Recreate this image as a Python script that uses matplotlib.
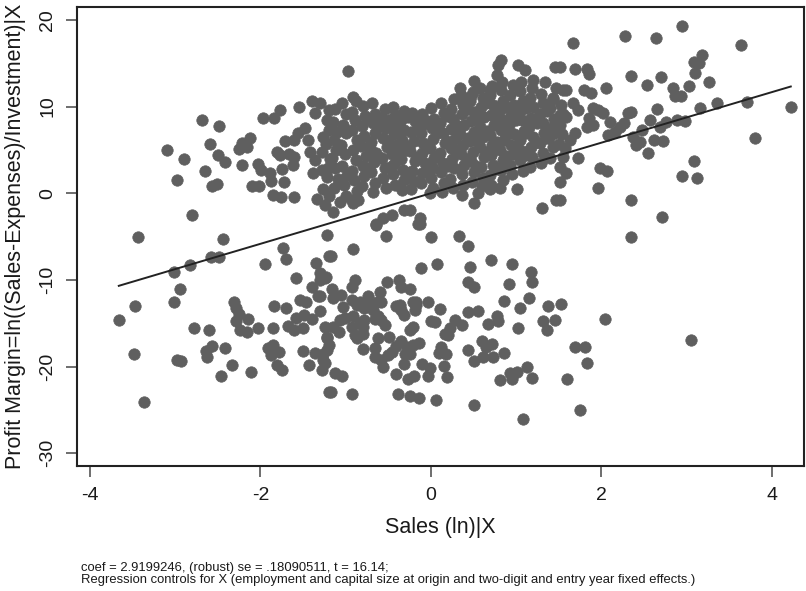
import matplotlib
matplotlib.use("Agg")
import matplotlib.pyplot as plt
import numpy as np

plt.rcParams['font.family'] = ['Liberation Sans', 'DejaVu Sans']

# added-variable plot: residuals of profit margin vs residuals of sales
coef = 2.9199246

# scattered points of the upper cloud
upper_pts = [
    (-2.68, 8.46), (-2.48, 7.8), (-3.09, 5.0), (-2.89, 3.9), (-2.59, 5.7), (-2.50, 4.4),
    (-2.42, 3.6), (-2.65, 2.6), (-2.98, 1.5), (-2.57, 0.84), (-2.51, 1.07), (-2.80, -2.54),
    (-2.22, 5.77), (-2.12, 6.42), (-2.25, 5.08), (-2.16, 5.38), (-2.22, 3.3), (-2.03, 3.38),
    (-1.99, 2.69), (-1.89, 2.38), (-2.10, 0.88), (-2.02, 0.88), (-1.88, 1.46),
    (-1.97, 8.66), (-1.84, 8.7), (-1.77, 9.62), (-1.55, 10.0), (-1.40, 10.7), (-1.30, 10.4),
    (-1.36, 9.24), (-1.20, 9.6), (-1.48, 7.57), (-1.56, 6.93), (-1.61, 6.15), (-1.71, 6.04),
    (-1.81, 4.8), (-1.77, 4.42), (-1.66, 4.54), (-1.60, 4.23), (-1.62, 3.27), (-1.75, 2.77),
    (-1.72, 1.34), (-1.85, -0.2), (-1.76, -0.39), (-1.61, -0.39), (-1.44, 6.15), (-1.42, 4.8),
    (-1.36, 3.85), (-1.28, 4.8), (-1.26, 6.54), (-1.38, 2.31), (-1.28, 2.69), (-1.22, 1.92),
    (-1.33, -0.7), (-1.24, -1.35), (-1.27, 0.5), (-1.20, -0.3),
    (-0.97, 14.1), (-0.91, 11.1), (0.82, 15.4), (0.79, 14.8), (0.77, 13.6), (1.02, 14.8),
    (1.10, 14.2), (1.45, 14.6), (0.50, 13.0), (0.34, 12.1), (0.47, 11.2), (0.69, 11.9),
    (0.83, 12.9), (1.06, 12.8), (1.20, 13.1), (1.34, 12.9), (1.47, 12.1), (1.59, 11.9),
    (1.43, 11.0), (1.45, 6.93), (1.30, -1.73), (1.47, -0.77), (0.50, -1.08), (0.36, -0.2),
    (0.55, 0.07), (0.69, 0.46), (0.81, 0.65), (1.01, 0.5), (-0.13, -2.9), (-0.15, -3.6),
    (-0.32, -1.93), (-0.25, -1.93), (-0.46, -2.5), (-0.56, -2.9), (-0.64, -3.6), (-0.53, -4.9),
    (-0.01, 0.07), (-1.15, -2.12), (-1.07, -0.97), (-0.91, -1.15), (-0.85, -0.77),
    (1.67, 17.3), (2.28, 18.2), (2.64, 17.9), (2.94, 19.3), (3.64, 17.1), (3.18, 16.0),
    (3.08, 15.2), (3.14, 15.0), (3.10, 13.9), (3.26, 12.8), (3.03, 12.4), (2.35, 13.5),
    (2.53, 12.5), (2.70, 13.4), (2.84, 12.2), (2.86, 11.2), (2.93, 11.2), (3.35, 10.4),
    (3.71, 10.5), (4.22, 9.9), (3.16, 9.8), (2.65, 9.7), (3.80, 6.35), (3.08, 3.73),
    (2.95, 2.03), (3.12, 1.73), (2.35, -0.77), (1.96, 0.58), (1.98, 2.89), (2.06, 2.61),
    (1.73, 4.1), (2.54, 4.62), (2.41, 5.58), (2.45, 5.96), (2.37, 6.54), (2.62, 6.15),
    (2.72, 6.07), (2.47, 7.3), (2.57, 8.46), (2.69, 7.69), (2.76, 8.27), (2.88, 8.46),
    (2.98, 8.38), (2.31, 9.24), (2.35, 9.42), (2.22, 7.69), (2.26, 8.08), (2.16, 7.11),
    (2.08, 6.73), (2.10, 8.27), (2.02, 9.24), (1.90, 9.82), (1.96, 9.62), (1.69, 14.4),
    (1.83, 14.4), (1.85, 13.8), (2.05, 12.1), (1.79, 11.9), (1.88, 11.6), (1.55, 11.9),
    (1.51, 14.6), (1.67, 10.4), (1.73, 9.62), (1.59, 8.85), (1.51, 9.04), (1.85, 8.66),
    (1.90, 7.89), (1.83, 7.69), (1.69, 6.93), (1.63, 6.16), (1.57, 5.2), (1.55, 4.23),
    (1.51, 3.07), (1.59, 2.31), (1.51, 1.34), (1.51, -0.77), (2.71, -2.7), (2.35, -5.08),
]

# dense core of the upper cloud
band_pts = [
    (-1.22, 8.5), (-1.19, 7.3), (-1.23, 5.7), (-1.18, 4.0), (-1.21, 2.9),
    (-1.12, 9.7), (-1.15, 8.2), (-1.10, 7.1), (-1.14, 6.2), (-1.11, 5.0), (-1.16, 4.1),
    (-1.12, 2.9), (-1.09, 1.7), (-1.14, 0.6),
    (-1.04, 10.4), (-1.00, 9.1), (-1.03, 7.9), (-0.99, 6.9), (-1.05, 5.6), (-1.01, 4.5),
    (-1.04, 3.2), (-0.98, 2.1), (-1.02, 0.9), (-1.00, -0.3),
    (-0.88, 10.6), (-0.92, 9.4), (-0.89, 8.4), (-0.93, 7.3), (-0.87, 6.1), (-0.91, 5.0),
    (-0.88, 3.8), (-0.93, 2.6), (-0.90, 1.5), (-0.87, 0.3), (-0.92, -0.8),
    (-0.80, 10.1), (-0.77, 8.9), (-0.81, 7.8), (-0.78, 6.6), (-0.82, 5.5), (-0.76, 4.3),
    (-0.80, 3.1), (-0.78, 2.0), (-0.81, 0.8),
    (-0.69, 10.4), (-0.65, 9.2), (-0.68, 8.1), (-0.66, 7.0), (-0.70, 5.9), (-0.64, 4.7),
    (-0.67, 3.6), (-0.70, 2.4), (-0.65, 1.2), (-0.68, 0.1),
    (-0.54, 9.7), (-0.57, 8.7), (-0.53, 7.5), (-0.56, 6.4), (-0.52, 5.3), (-0.57, 4.1),
    (-0.54, 2.9), (-0.56, 1.8), (-0.53, 0.6),
    (-0.45, 10.0), (-0.42, 9.0), (-0.46, 7.9), (-0.43, 6.8), (-0.41, 5.6), (-0.46, 4.5),
    (-0.43, 3.4), (-0.45, 2.2), (-0.42, 1.0),
    (-0.31, 9.5), (-0.35, 8.4), (-0.32, 7.3), (-0.34, 6.2), (-0.30, 5.0), (-0.35, 3.9),
    (-0.33, 2.7), (-0.31, 1.5), (-0.34, 0.4),
    (-0.22, 9.3), (-0.19, 8.3), (-0.23, 7.1), (-0.20, 6.0), (-0.24, 4.9), (-0.19, 3.7),
    (-0.22, 2.6), (-0.20, 1.4), (-0.23, 0.5),
    (-0.11, 9.1), (-0.08, 8.0), (-0.12, 6.9), (-0.09, 5.8), (-0.11, 4.6), (-0.07, 3.5),
    (-0.10, 2.3), (-0.12, 1.2),
    (0.00, 9.8), (0.04, 8.6), (0.01, 7.5), (0.03, 6.3), (-0.01, 5.2), (0.04, 4.1),
    (0.02, 2.9), (0.00, 1.8), (0.03, 0.6),
    (0.12, 10.4), (0.15, 9.3), (0.11, 8.1), (0.14, 7.0), (0.16, 5.8), (0.11, 4.7),
    (0.14, 3.5), (0.12, 2.4), (0.15, 1.2), (0.13, 0.2),
    (0.27, 10.9), (0.23, 9.7), (0.26, 8.6), (0.24, 7.4), (0.28, 6.3), (0.23, 5.2),
    (0.25, 4.0), (0.27, 2.9), (0.22, 1.7), (0.26, 0.6),
    (0.35, 11.3), (0.38, 10.2), (0.36, 9.1), (0.39, 7.9), (0.34, 6.8), (0.38, 5.6),
    (0.35, 4.5), (0.39, 3.3), (0.36, 2.2), (0.38, 1.0),
    (0.49, 11.7), (0.46, 10.6), (0.50, 9.4), (0.47, 8.3), (0.51, 7.1), (0.46, 6.0),
    (0.49, 4.8), (0.47, 3.7), (0.50, 2.5), (0.48, 1.3),
    (0.58, 12.1), (0.61, 11.0), (0.59, 9.9), (0.62, 8.8), (0.57, 7.6), (0.61, 6.5),
    (0.58, 5.3), (0.62, 4.2), (0.59, 3.0), (0.61, 1.8), (0.60, 0.8),
    (0.72, 12.4), (0.69, 11.3), (0.73, 10.2), (0.70, 9.0), (0.74, 7.9), (0.69, 6.7),
    (0.72, 5.6), (0.70, 4.4), (0.73, 3.3), (0.69, 2.1), (0.71, 1.0),
    (0.82, 11.9), (0.85, 10.7), (0.81, 9.6), (0.84, 8.4), (0.82, 7.3), (0.86, 6.1),
    (0.81, 5.0), (0.84, 3.8), (0.82, 2.7), (0.85, 1.5),
    (0.96, 12.5), (0.93, 11.3), (0.97, 10.2), (0.94, 9.0), (0.92, 7.9), (0.97, 6.8),
    (0.94, 5.6), (0.96, 4.5), (0.93, 3.3), (0.95, 2.2),
    (1.05, 11.8), (1.08, 10.6), (1.04, 9.5), (1.07, 8.4), (1.09, 7.2), (1.04, 6.1),
    (1.07, 4.9), (1.05, 3.8), (1.08, 2.6),
    (1.19, 12.2), (1.16, 11.0), (1.20, 9.9), (1.17, 8.7), (1.15, 7.6), (1.20, 6.5),
    (1.17, 5.3), (1.19, 4.2), (1.16, 3.0),
    (1.29, 11.5), (1.32, 10.4), (1.28, 9.2), (1.31, 8.1), (1.33, 7.0), (1.28, 5.8),
    (1.31, 4.7), (1.29, 3.5),
    (1.43, 10.9), (1.40, 9.8), (1.44, 8.6), (1.41, 7.5), (1.39, 6.4), (1.43, 5.3),
    (1.40, 4.1),
    (1.52, 10.2), (1.55, 9.1), (1.51, 7.9), (1.54, 6.8), (1.50, 5.7),
]

# extra points where the core of the upper cloud is solid
core_pts = [
    (-0.73, 8.6), (-0.72, 5.2), (-0.74, 2.9), (-0.61, 7.6), (-0.60, 4.1),
    (-0.49, 8.4), (-0.50, 6.0), (-0.48, 3.0), (-0.38, 7.3), (-0.37, 4.6),
    (-0.27, 8.8), (-0.26, 5.5), (-0.28, 2.1), (-0.15, 7.6), (-0.16, 4.2),
    (-0.04, 8.3), (-0.05, 5.3), (-0.03, 2.6), (0.07, 7.0), (0.08, 4.3),
    (0.19, 8.9), (0.19, 6.0), (0.20, 3.2), (0.30, 7.9), (0.31, 5.0),
    (0.42, 9.7), (0.43, 6.4), (0.42, 3.9), (0.54, 8.8), (0.55, 5.9),
    (0.53, 3.1), (0.65, 10.4), (0.66, 7.2), (0.65, 4.8), (0.77, 8.5),
    (0.78, 5.9), (0.77, 2.8), (0.88, 10.0), (0.89, 6.8), (0.88, 4.3),
    (1.00, 8.4), (1.01, 5.2), (1.12, 9.8), (1.12, 6.9), (1.11, 4.4),
    (1.24, 8.1), (1.23, 5.9), (1.36, 9.5), (1.35, 6.4),
]

# lower cloud
lower_pts = [
    (-3.44, -5.1), (-2.44, -5.3), (-3.01, -9.05), (-2.82, -8.28), (-2.58, -7.32), (-2.48, -7.32),
    (-2.94, -11.1), (-3.01, -12.5), (-3.47, -13.0), (-3.66, -14.6), (-3.48, -18.5), (-3.36, -24.1),
    (-2.98, -19.2), (-2.93, -19.4), (-2.78, -15.5), (-2.60, -15.8), (-2.64, -18.2), (-2.57, -17.6),
    (-2.62, -18.9), (-2.41, -17.9), (-2.33, -19.8), (-2.46, -21.1), (-2.11, -20.6),
    (-2.31, -12.5), (-2.28, -13.3), (-2.25, -13.9), (-2.28, -14.8), (-2.24, -15.8), (-2.16, -16.0),
    (-2.15, -14.5), (-2.03, -15.5), (-1.95, -8.2), (-1.73, -6.35), (-1.70, -7.6), (-1.58, -9.8),
    (-1.84, -13.0), (-1.70, -13.3), (-1.85, -15.5), (-1.67, -15.3), (-1.60, -15.8), (-1.50, -15.6),
    (-1.58, -14.4), (-1.49, -14.1), (-1.40, -14.5), (-1.54, -12.3), (-1.46, -12.5), (-1.40, -10.8),
    (-1.32, -11.9), (-1.30, -10.0), (-1.23, -9.63), (-1.30, -13.6), (-1.35, -8.08), (-1.22, -4.8),
    (-1.20, -7.3), (-1.91, -17.9), (-1.85, -17.5), (-1.87, -18.7), (-1.78, -18.3), (-1.81, -19.8),
    (-1.75, -20.4), (-1.50, -18.2), (-1.36, -18.4), (-1.43, -19.8), (-1.28, -20.4), (-1.26, -19.2),
    (-1.20, -17.5), (-1.19, -22.9), (-1.24, -15.4), (-1.22, -16.6),
    (-0.64, -3.66), (-0.13, -3.55), (0.0, -5.0), (0.33, -4.93), (0.44, -6.09), (-0.91, -6.47),
    (-1.17, -7.2), (-0.12, -8.6), (0.07, -8.2), (0.46, -8.55), (0.44, -10.2), (0.50, -10.8),
    (0.70, -7.7), (0.95, -8.16), (1.17, -9.12), (1.19, -10.2), (0.91, -10.5), (0.86, -12.4),
    (1.05, -13.3), (1.15, -12.1), (1.37, -13.0), (1.53, -12.8), (1.31, -14.7), (1.45, -14.6),
    (1.36, -15.8), (1.02, -15.6), (1.60, -21.4), (1.13, -20.1), (1.18, -21.3), (1.01, -20.6),
    (0.93, -20.8), (0.81, -21.5), (0.95, -21.4), (1.08, -26.1), (0.50, -24.4),
    (0.60, -17.1), (0.65, -17.7), (0.72, -17.4), (0.86, -18.4), (0.73, -18.9), (0.61, -18.9),
    (0.51, -19.4), (0.43, -18.1), (0.77, -14.2), (0.67, -15.1), (0.79, -14.8), (0.44, -13.7),
    (0.55, -13.6), (0.11, -13.4), (-0.03, -12.5), (-0.17, -12.6), (-0.19, -13.5), (0.0, -14.7),
    (0.05, -14.9), (0.28, -14.6), (0.36, -15.2), (0.22, -15.6), (0.16, -16.2), (0.20, -16.4),
    (0.12, -17.7), (0.10, -18.4), (0.18, -18.6), (0.15, -19.9), (0.19, -21.2), (0.06, -23.9),
    (-0.14, -23.6), (-0.25, -23.4), (-0.39, -23.2), (-0.10, -19.7), (-0.01, -20.2), (-0.03, -21.1),
    (-0.20, -21.1), (-0.27, -21.4), (-0.41, -20.9), (-0.31, -19.7), (-0.30, -18.5), (-0.28, -17.8),
    (-0.21, -17.5), (-0.14, -17.3), (-0.25, -18.5), (-0.35, -17.0), (-0.41, -17.6), (-0.46, -18.3),
    (-0.50, -18.7), (-0.58, -19.3), (-0.56, -20.0), (-0.66, -18.9), (-0.49, -16.6), (-0.62, -16.7),
    (-0.65, -17.9), (-0.80, -18.0), (-0.25, -15.8), (-0.21, -15.4), (-0.17, -12.9), (-0.21, -12.6),
    (-0.41, -13.0), (-0.35, -13.5), (-0.32, -14.1), (-0.36, -12.9), (-0.37, -10.0), (-0.35, -10.8),
    (-0.24, -11.1), (-0.52, -10.3), (-0.60, -11.4), (-0.63, -12.5), (-0.58, -12.6), (-0.66, -14.5),
    (-0.62, -14.2), (-0.58, -14.6), (-0.54, -15.2), (-0.74, -11.9), (-0.72, -12.9), (-0.68, -13.5),
    (-0.79, -14.6), (-0.80, -15.4), (-1.30, -9.24), (-1.24, -9.8), (-1.16, -11.0), (-1.15, -12.1),
    (-1.06, -11.7), (-1.30, -11.9), (-1.03, -13.1), (-0.93, -12.3), (-0.89, -10.0), (-0.93, -10.8),
    (-0.87, -12.9), (-0.83, -12.5), (-0.79, -13.3), (-1.07, -14.6), (-1.01, -14.4), (-0.91, -14.2),
    (-0.83, -15.0), (-1.15, -15.4), (-1.08, -16.0), (-0.93, -15.4), (-0.89, -16.4), (-0.87, -16.7),
    (-0.80, -16.2), (-1.22, -16.7), (-1.22, -18.1), (-1.26, -18.5), (-1.24, -19.6), (-1.13, -20.8),
    (-1.04, -21.1), (-1.17, -22.9), (-0.92, -23.2),
    (2.04, -14.5), (3.05, -16.9), (1.69, -17.8), (1.81, -17.8), (1.83, -19.6), (1.75, -25.0),
]

pts = np.array(upper_pts + band_pts + core_pts + lower_pts)

fig = plt.figure(figsize=(8.06, 5.91), dpi=100)
ax = fig.add_axes([77 / 806, 1 - 465.7 / 591, 727 / 806, 458.7 / 591])

ax.scatter(pts[:, 0], pts[:, 1], s=68, color='#5f5f5f', edgecolors='#5f5f5f',
           linewidths=0.5, zorder=2)

xl = np.array([pts[:, 0].min(), pts[:, 0].max()])
ax.plot(xl, coef * xl, color='#222222', lw=1.4, zorder=3)

ax.set_xlim(-4.15, 4.375)
ax.set_ylim(-31.45, 21.5)
ax.set_xticks([-4, -2, 0, 2, 4])
ax.set_yticks([-30, -20, -10, 0, 10, 20])
ax.set_xticklabels(['-4', '-2', '0', '2', '4'])
ax.set_yticklabels(['-30', '-20', '-10', '0', '10', '20'])

for s in ax.spines.values():
    s.set_linewidth(1.5)
    s.set_color('#222222')

ax.tick_params(axis='both', length=8, width=1.2, color='#555555', labelsize=14,
               labelcolor='#1a1a1a', pad=7)
for lab in ax.get_yticklabels():
    lab.set_rotation(90)
    lab.set_va('center')

ax.set_xlabel('Sales (ln)|X', fontsize=15.5, color='#1a1a1a')
ax.xaxis.label.set_va('center')
ax.xaxis.set_label_coords(0.5, (465.7 - 527) / 458.7)
ax.set_ylabel('Profit Margin=ln((Sales-Expenses)/Investment)|X', fontsize=15.5,
              color='#1a1a1a')
ax.yaxis.label.set_va('center')
ax.yaxis.set_label_coords((16 - 77) / 727, 0.5)

fig.text(80.7 / 806, 1 - 567.7 / 591,
         'coef = 2.9199246, (robust) se = .18090511, t = 16.14;',
         fontsize=9.4, va='center', ha='left', color='#1a1a1a')
fig.text(80.7 / 806, 1 - 579.5 / 591,
         'Regression controls for X (employment and capital size at origin and '
         'two-digit and entry year fixed effects.)',
         fontsize=9.4, va='center', ha='left', color='#1a1a1a')

fig.savefig('out.png', dpi=100)
